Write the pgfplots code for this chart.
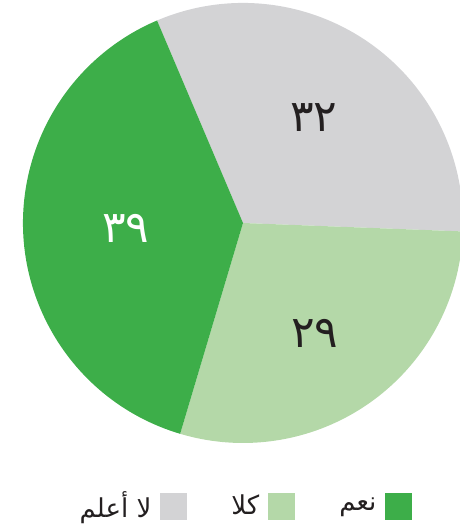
\documentclass[border=0pt]{standalone}
\usepackage{pgfplots}
\pgfplotsset{compat=1.18}
\usepackage{fontspec}
\setmainfont{DejaVu Sans}
\newfontfamily\arabicfont[Script=Arabic]{DejaVu Sans}
\TeXXeTstate=1

\definecolor{dkgreen}{RGB}{61,174,73}
\definecolor{ltgreen}{RGB}{180,216,168}
\definecolor{pgrey}{RGB}{211,211,213}
\definecolor{numdark}{RGB}{35,31,32}

% shares in percent
\def\vGrey{32}   % la a'lam
\def\vLight{29}  % kalla
\def\vDark{39}   % na'am
\def\startang{113}

\begin{document}
\begin{tikzpicture}
\begin{axis}[
    name=ax,
    scale only axis,
    width=460pt, height=525pt,
    xmin=0, xmax=460, ymin=0, ymax=525,
    hide axis,
    clip=false,
    legend columns=3,
    legend plot pos=right,
    legend image code/.code={\fill[#1] (0pt,-15.5pt) rectangle (27pt,11.5pt);},
    legend style={
        at={(axis cs:245,20)}, anchor=center,
        draw=none, fill=none,
        font=\fontsize{26}{29}\selectfont,
        text=numdark,
        /tikz/every even column/.append style={column sep=42pt},
        /tikz/every odd column/.append style={column sep=7pt},
    },
]
% slices, clockwise from the top boundary
\fill[pgrey] (axis cs:243,302) -- ++(\startang:220pt)
    arc[start angle=\startang, end angle={\startang-3.6*\vGrey}, radius=220pt] -- cycle;
\fill[ltgreen] (axis cs:243,302) -- ++({\startang-3.6*\vGrey}:220pt)
    arc[start angle={\startang-3.6*\vGrey}, end angle={\startang-3.6*(\vGrey+\vLight)}, radius=220pt] -- cycle;
\fill[dkgreen] (axis cs:243,302) -- ++({\startang-3.6*(\vGrey+\vLight)}:220pt)
    arc[start angle={\startang-3.6*(\vGrey+\vLight)}, end angle={\startang-360}, radius=220pt] -- cycle;

\node[text=numdark, font=\fontsize{44}{48}\selectfont] at (axis cs:314,407) {\arabicfont ٣٢};
\node[text=numdark, font=\fontsize{44}{48}\selectfont] at (axis cs:315,192) {\arabicfont ٢٩};
\node[text=white, font=\fontsize{44}{48}\selectfont] at (axis cs:126,297) {\arabicfont ٣٩};

\addlegendimage{fill=pgrey, draw=none}
\addlegendentry{\arabicfont\beginR لا أعلم\endR}
\addlegendimage{fill=ltgreen, draw=none}
\addlegendentry{\arabicfont\beginR كلا\endR}
\addlegendimage{fill=dkgreen, draw=none}
\addlegendentry{\arabicfont\beginR نعم\endR}
\end{axis}
\pgfresetboundingbox
\useasboundingbox (ax.south west) rectangle (ax.north east);
\end{tikzpicture}
\end{document}
